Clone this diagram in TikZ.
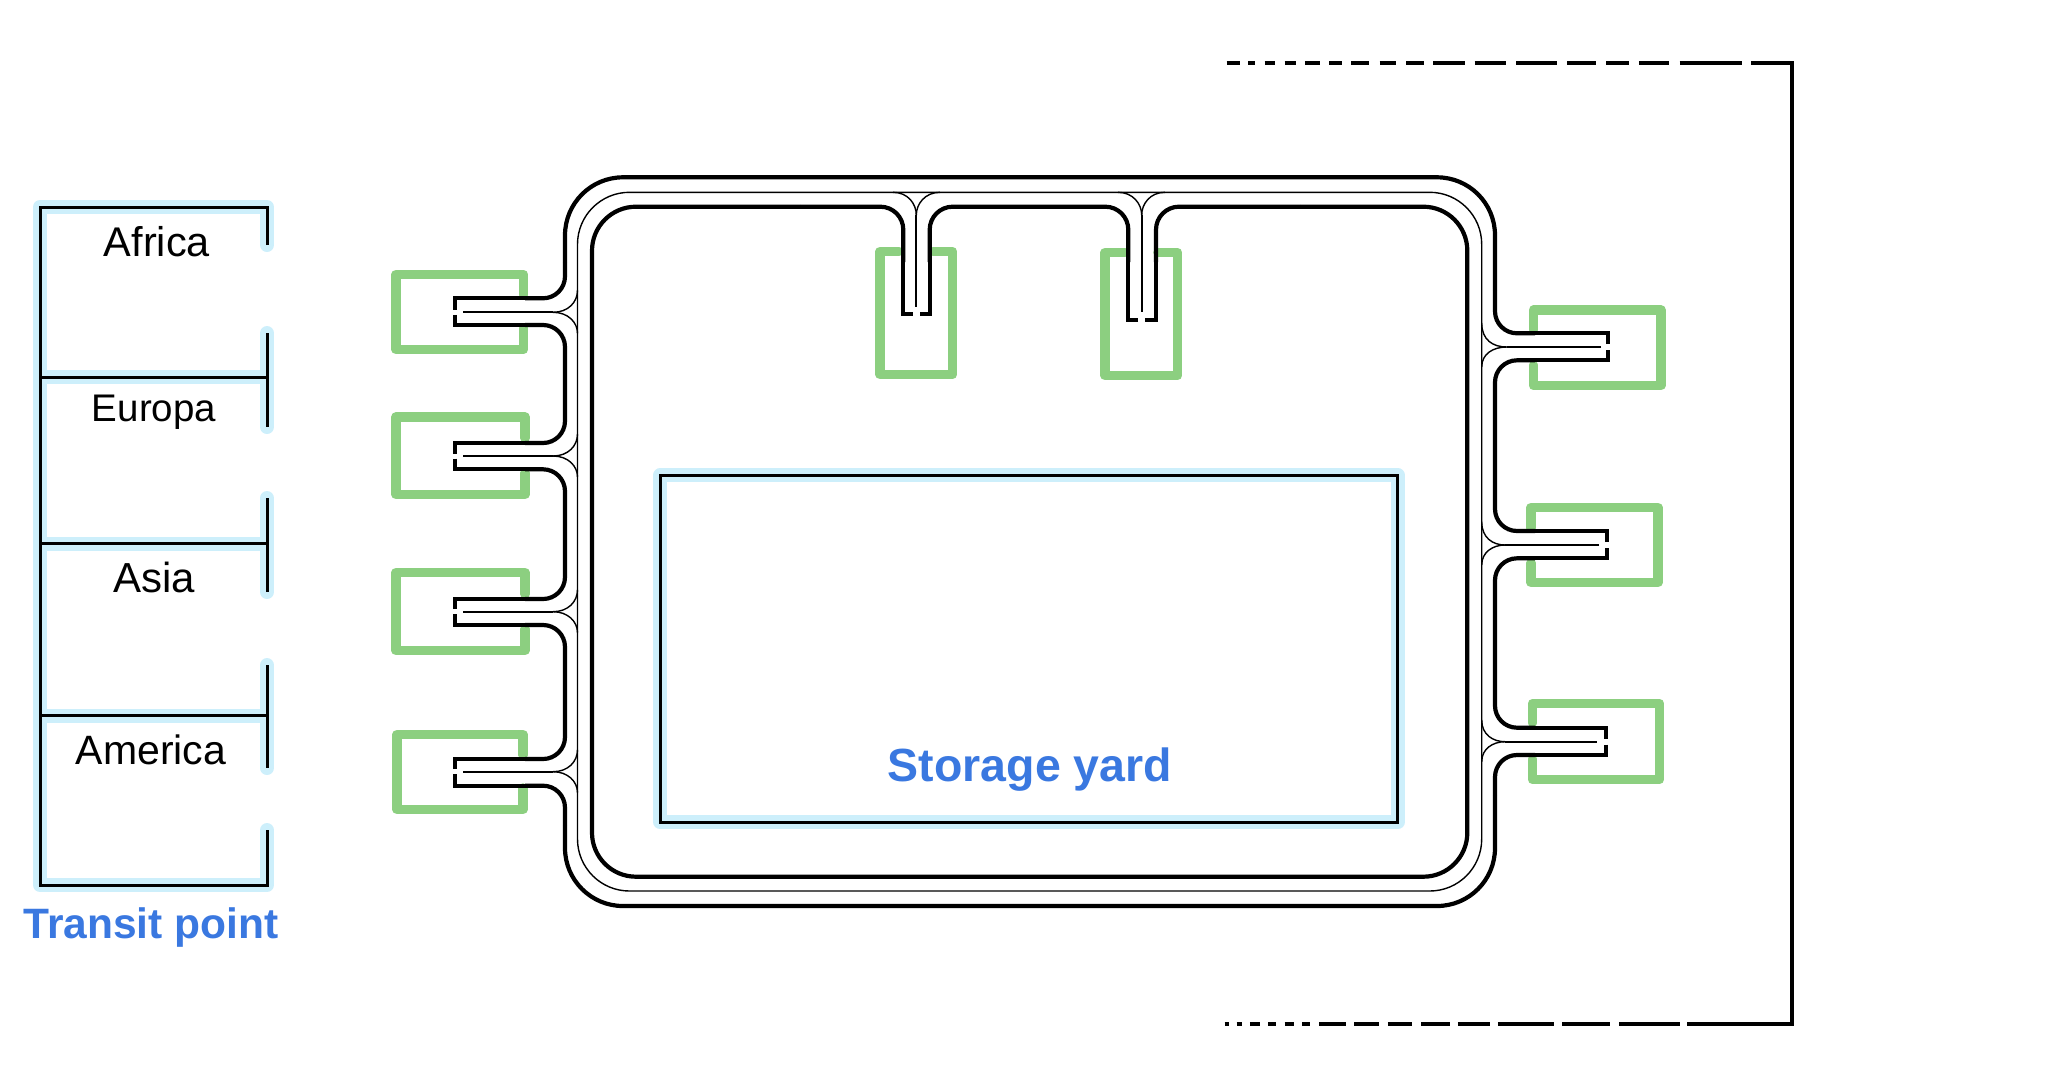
\documentclass[tikz,border=0pt]{standalone}
\usepackage{fontspec}
\setmainfont{Liberation Sans}
\definecolor{halo}{HTML}{CDEFFB}
\definecolor{yardgreen}{HTML}{8CCF80}
\definecolor{labelblue}{HTML}{3A78E0}
\tikzset{
  trk/.style={black,line width=4.2pt,line cap=butt,line join=miter},
  thinline/.style={black,line width=1.4pt},
  midline/.style={black,line width=2pt},
  hal/.style={halo,line width=14pt,line cap=round,line join=round},
  grn/.style={yardgreen,line width=9.5pt,line cap=round,line join=round},
  frm/.style={black,line width=4.2pt,line cap=butt,line join=miter},
  lbl/.style={anchor=base,inner sep=0pt,font=\fontsize{#1}{#1}\selectfont},
  bluelbl/.style={anchor=base,inner sep=0pt,text=labelblue,font=\bfseries\fontsize{#1}{#1}\selectfont}
}
% x1 = side with the opening, x2 = closed side
\newcommand{\gboxh}[6]{\draw[grn] (#1,#5) -- (#1,#3) -- (#2,#3) -- (#2,#4) -- (#1,#4) -- (#1,#6);}
\begin{document}
\begin{tikzpicture}[x=1pt,y=-1pt]
\useasboundingbox (0,0) rectangle (2048,1080);

% ---------- transit point: halo
\draw[hal] (267,245) -- (267,207) -- (40,207) -- (40,885) -- (267,885) -- (267,830);
\foreach \ya/\yb in {333/427,498/592,665/768} \draw[hal] (267,\ya) -- (267,\yb);
\foreach \yy in {377,543.5,716} \draw[hal,line cap=butt] (40,\yy) -- (267,\yy);
% ---------- storage yard: halo
\draw[hal] (660.4,475) rectangle (1397.6,822.3);

% ---------- green boxes
\gboxh{523.5}{396}{274.5}{349.5}{295}{328}
\gboxh{525}{396}{417}{494.5}{438}{473}
\gboxh{525}{396}{572.5}{650.5}{594}{629}
\gboxh{523}{397}{734.5}{809.5}{755}{788}
\gboxh{1533.5}{1661}{310}{385.5}{330}{365}
\gboxh{1531}{1658}{507.5}{582.5}{528}{563}
\gboxh{1532.5}{1659.5}{703.5}{779.5}{723}{759}
\draw[grn] (899,251.5) -- (880,251.5) -- (880,374.5) -- (952.5,374.5) -- (952.5,251.5) -- (933,251.5);
\draw[grn] (1125,252.5) -- (1105,252.5) -- (1105,375.5) -- (1177.5,375.5) -- (1177.5,252.5) -- (1158,252.5);

% ---------- transit point: lines
\draw[black,line width=3pt,line join=miter] (267,245) -- (267,207) -- (40,207) -- (40,885) -- (267,885) -- (267,830);
\foreach \ya/\yb in {333/427,498/592,665/768} \draw[black,line width=3pt] (267,\ya) -- (267,\yb);
\foreach \yy in {377,543.5,715.5} \draw[black,line width=3pt] (40,\yy) -- (267,\yy);
% ---------- storage yard: line
\draw[black,line width=3pt] (660.4,475) rectangle (1397.6,822.3);

% ---------- middle thin loop
\draw[thinline,rounded corners=52pt] (577.5,192.3) rectangle (1481.7,891);

% ---------- left spurs
\foreach \u/\m/\l in {298.3/312.3/325,443/456/469.3,599/611.7/625,759/771.7/785.7}{
  \draw[trk] (455,\m-2.5) -- (455,\u) -- (525,\u);
  \draw[trk] (455,\m+2.5) -- (455,\l) -- (525,\l);
  \draw[midline] (463,\m) -- (553,\m);
  \draw[thinline] (553,\m) .. controls (568,\m) and (577.5,\m-10) .. (577.5,\m-22);
  \draw[thinline] (553,\m) .. controls (568,\m) and (577.5,\m+10) .. (577.5,\m+21);
}
\draw[trk,rounded corners=22pt] (525,325) -- (565,325) -- (565,443) -- (525,443);
\draw[trk,rounded corners=22pt] (525,469.3) -- (565,469.3) -- (565,599) -- (525,599);
\draw[trk,rounded corners=22pt] (525,625) -- (565,625) -- (565,759) -- (525,759);

% ---------- right spurs
\foreach \u/\m/\l/\e/\t/\f/\fu/\fd in {333.3/347/360.3/1608.3/1601/1506.7/323/367,531/545/558.3/1606.7/1599/1505/521.7/565,727.7/741.7/755/1605.7/1596.7/1505/720/761.7}{
  \draw[trk] (\e,\m-3) -- (\e,\u) -- (1535,\u);
  \draw[trk] (\e,\m+3) -- (\e,\l) -- (1535,\l);
  \draw[midline] (\t,\m) -- (\f,\m);
  \draw[thinline] (\f,\m) .. controls (1493,\m) and (1481.7,\m-7) .. (1481.7,\fu);
  \draw[thinline] (\f,\m) .. controls (1493,\m) and (1481.7,\m+7) .. (1481.7,\fd);
}
\draw[trk,rounded corners=22pt] (1535,360.3) -- (1495,360.3) -- (1495,531) -- (1535,531);
\draw[trk,rounded corners=22pt] (1535,558.3) -- (1495,558.3) -- (1495,727.7) -- (1535,727.7);

% ---------- outer line, around the top and the bottom
\draw[trk,rounded corners=22pt] (525,298.3) -- (565,298.3) -- (565,262);
\draw[trk,rounded corners=58pt] (565,262) -- (565,177.3) -- (1495,177.3) -- (1495,290);
\draw[trk,rounded corners=22pt] (1495,290) -- (1495,333.3) -- (1535,333.3);
\draw[trk,rounded corners=22pt] (1535,755) -- (1495,755) -- (1495,795);
\draw[trk,rounded corners=58pt] (1495,795) -- (1495,906) -- (565,906) -- (565,825);
\draw[trk,rounded corners=22pt] (565,825) -- (565,785.7) -- (525,785.7);

% ---------- inner line and top spurs
\draw[trk,rounded corners=23pt] (903.3,262) -- (903.3,206.7) -- (800,206.7);
\draw[trk,rounded corners=44pt] (800,206.7) -- (592,206.7) -- (592,876.7) -- (1467.3,876.7) -- (1467.3,206.7) -- (1300,206.7);
\draw[trk,rounded corners=23pt] (1300,206.7) -- (1156,206.7) -- (1156,262);
\draw[trk,rounded corners=23pt] (929.7,262) -- (929.7,206.7) -- (1128.3,206.7) -- (1128.3,262);
\draw[trk] (912.7,314) -- (903.3,314) -- (903.3,255);
\draw[trk] (920,314) -- (929.7,314) -- (929.7,255);
\draw[trk] (1138,320) -- (1128.3,320) -- (1128.3,255);
\draw[trk] (1145,320) -- (1156,320) -- (1156,255);
\draw[midline] (916.3,306.7) -- (916.3,215);
\draw[thinline] (916.3,215) .. controls (916.3,204) and (908,192.3) .. (893,192.3);
\draw[thinline] (916.3,215) .. controls (916.3,204) and (925,192.3) .. (940,192.3);
\draw[midline] (1141.7,311.7) -- (1141.7,215);
\draw[thinline] (1141.7,215) .. controls (1141.7,204) and (1133,192.3) .. (1118,192.3);
\draw[thinline] (1141.7,215) .. controls (1141.7,204) and (1150,192.3) .. (1165,192.3);

% ---------- dashed frame on the right
\foreach \a/\b in {65/97,118/135,158/183,207/235,257/293,317/348,370/415,440/480,505/548,572/650,673/750,775/875,900/970,995/1050,1075/1150,1175/1327}
  \draw[frm] ({1200+\a/2.45},63.3) -- ({1200+\b/2.45},63.3);
\foreach \a/\b in {60/72,90/103,122/147,167/185,207/230,250/270,292/357,378/438,460/520,542/612,632/710,730/868,888/1005,1027/1175}
  \draw[frm] ({1200+\a/2.45},1024) -- ({1200+\b/2.45},1024);
\draw[frm] (1751,63.3) -- (1792.3,63.3) -- (1792.3,1024) -- (1687,1024);

% ---------- labels
\node[lbl=41.5] (africa) at (157,256) {Africa};
\node[lbl=38.5] (europa) at (154,421) {Europa};
\node[lbl=42] (asia) at (154,592) {Asia};
\node[lbl=41] (america) at (151,764) {America};
\node[bluelbl=42.5] (transit) at (151,938) {Transit point};
\node[bluelbl=46.5] (yard) at (1030,781) {Storage yard};
\end{tikzpicture}
\end{document}
